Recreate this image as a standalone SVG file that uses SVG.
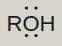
<svg xmlns="http://www.w3.org/2000/svg" width="62" height="46" viewBox="0 0 62 46">
<style>.t{font-family:"Liberation Sans",Arial,sans-serif;font-size:22px;fill:#1c1c1c}.d{fill:#111}</style>
<rect width="62" height="46" fill="#d7d5cb"/>
<g id="roh">
<text class="t" x="31" y="31" text-anchor="middle">ROH</text>
<circle class="d" cx="26.5" cy="8" r="1.6"/>
<circle class="d" cx="36" cy="8" r="1.6"/>
<circle class="d" cx="26.5" cy="35.5" r="1.6"/>
<circle class="d" cx="36" cy="35.5" r="1.6"/>
</g>
</svg>
